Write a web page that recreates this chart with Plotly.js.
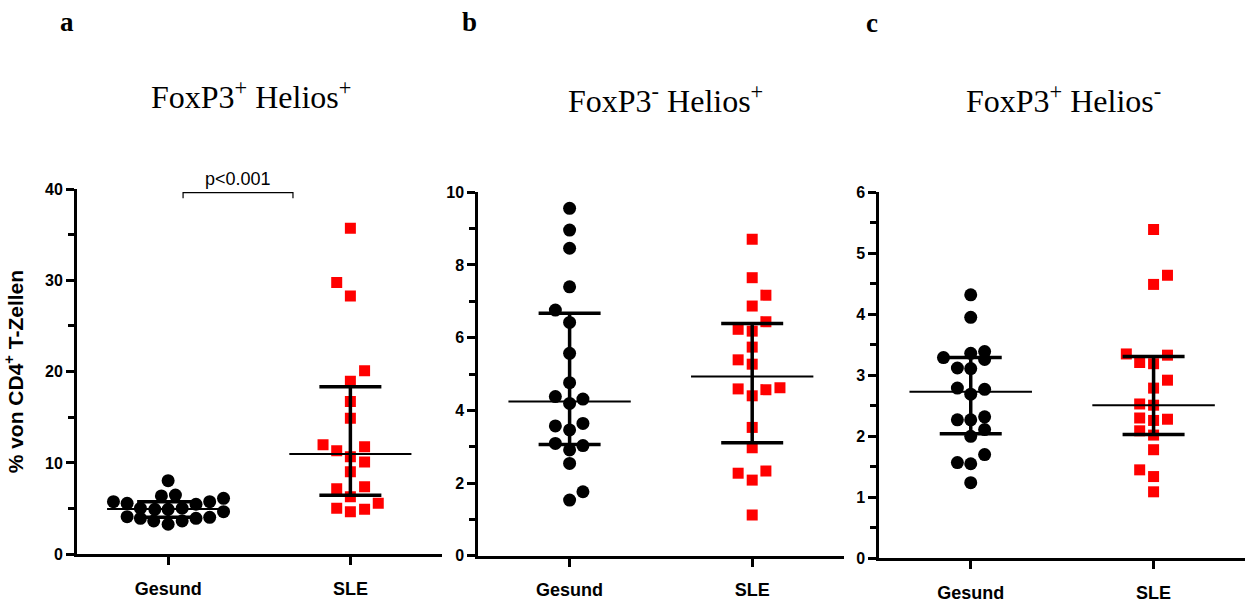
<!DOCTYPE html>
<html>
<head>
<meta charset="utf-8">
<script src="https://cdn.plot.ly/plotly-3.0.1.min.js"></script>
<style>html,body{margin:0;padding:0;background:#fff;}#chart{width:1245px;height:603px;}</style>
</head>
<body>
<div id="chart"></div>
<script>
// ---------- data ----------
const groups = ['Gesund', 'SLE'];
const groupIndex = [1, 2];

// Panel a: FoxP3+ Helios+
const aGesund   = [8.06,5.76,5.58,6.39,6.49,5.48,5.76,6.13,5.04,4.93,4.93,5.04,4.67,4.12,3.94,3.65,3.29,3.65,3.94,4.05];
const aGesundDx = [0,-0.30,-0.225,-0.037,0.04,0.153,0.228,0.304,-0.152,-0.073,0,0.077,0.304,-0.225,-0.152,-0.079,0,0.077,0.153,0.228];
const aSle      = [35.7,29.75,28.29,20.11,18.95,16.72,14.89,12.0,11.35,11.79,10.69,10.11,9.05,7.19,7.41,6.31,5.04,4.67,4.93,5.58];
const aSleDx    = [0,-0.075,0,0.078,0,0,0,-0.15,-0.075,0.078,0,0.078,0,-0.075,0.078,0,-0.075,0,0.078,0.153];
const aMedian = [4.96, 10.99];
const aQ1     = [4.05, 6.46];
const aQ3     = [5.76, 18.36];

// Panel b: FoxP3- Helios+
const bGesund   = [9.56,8.96,8.46,7.40,6.76,6.42,5.57,4.76,4.38,4.31,4.19,3.57,3.64,3.46,3.09,3.03,2.91,2.54,1.53,1.76];
const bGesundDx = [0,0,0,0,-0.078,0,0,0,-0.078,0.073,0,-0.078,0.073,0,-0.078,0.073,0,0,0,0.073];
const bSle      = [8.71,7.65,7.17,6.87,6.44,6.23,6.18,5.74,5.39,5.27,4.59,4.57,4.62,4.40,3.53,2.97,2.27,2.33,2.08,1.12];
const bSleDx    = [0,0,0.075,0,0.075,-0.077,0,0,-0.077,0,-0.077,0.075,0.152,0,0,0,-0.077,0.075,0,0];
const bMedian = [4.24, 4.93];
const bQ1     = [3.06, 3.11];
const bQ3     = [6.67, 6.39];

// Panel c: FoxP3+ Helios-
const cGesund   = [4.32,3.95,3.29,3.36,3.39,3.26,3.12,3.11,2.79,2.77,2.69,2.27,2.27,2.32,2.11,2.00,1.57,1.55,1.70,1.24];
const cGesundDx = [0,0,-0.149,0,0.076,0.076,-0.073,0,-0.073,0.076,0,-0.073,0,0.076,0.076,0,-0.073,0,0.076,0];
const cSle      = [5.39,4.64,4.49,3.35,3.33,3.21,3.19,2.92,2.79,2.53,2.51,2.30,2.26,2.28,2.09,2.02,1.78,1.45,1.34,1.09];
const cSleDx    = [0,0.076,0,-0.149,0.076,-0.076,0,0.076,0,-0.076,0,-0.076,0,0.076,-0.076,0,0,-0.076,0,0];
const cMedian = [2.73, 2.51];
const cQ1     = [2.04, 2.03];
const cQ3     = [3.29, 3.31];

const panelTitles = ['FoxP3<sup>+</sup> Helios<sup>+</sup>', 'FoxP3<sup>-</sup> Helios<sup>+</sup>', 'FoxP3<sup>+</sup> Helios<sup>-</sup>'];
const panelLetters = ['a', 'b', 'c'];
const yTitle = '% von CD4<sup>+</sup> T-Zellen';
const pText = 'p<0.001';

// ---------- build ----------
const ARIAL = 'Arial, "Liberation Sans", sans-serif';
const TIMES = '"Times New Roman", "Liberation Serif", serif';
const medianHalf = 0.335;

function panelTraces(g, gdx, s, sdx, med, q1, q3, xa, ya) {
  const tr = [];
  tr.push({x: gdx.map(d => groupIndex[0] + d), y: g, xaxis: xa, yaxis: ya, type: 'scatter', mode: 'markers',
           marker: {symbol: 'circle', size: 13, color: '#000'}, hoverinfo: 'y', showlegend: false});
  tr.push({x: sdx.map(d => groupIndex[1] + d), y: s, xaxis: xa, yaxis: ya, type: 'scatter', mode: 'markers',
           marker: {symbol: 'square', size: 11, color: '#ff0000'}, hoverinfo: 'y', showlegend: false});
  for (let i = 0; i < 2; i++) {
    tr.push({x: [groupIndex[i] - medianHalf, groupIndex[i] + medianHalf], y: [med[i], med[i]], xaxis: xa, yaxis: ya,
             type: 'scatter', mode: 'lines', line: {color: '#000', width: 2}, hoverinfo: 'skip', showlegend: false});
    tr.push({x: [groupIndex[i]], y: [med[i]], xaxis: xa, yaxis: ya, type: 'scatter', mode: 'markers',
             marker: {opacity: 0, size: 1}, hoverinfo: 'skip', showlegend: false,
             error_y: {type: 'data', symmetric: false, array: [q3[i] - med[i]], arrayminus: [med[i] - q1[i]],
                       width: 31, thickness: 3.5, color: '#000'}});
  }
  return tr;
}

const data = [].concat(
  panelTraces(aGesund, aGesundDx, aSle, aSleDx, aMedian, aQ1, aQ3, 'x', 'y'),
  panelTraces(bGesund, bGesundDx, bSle, bSleDx, bMedian, bQ1, bQ3, 'x2', 'y2'),
  panelTraces(cGesund, cGesundDx, cSle, cSleDx, cMedian, cQ1, cQ3, 'x3', 'y3')
);

function xAxis(domain, anchor) {
  return {domain: domain, anchor: anchor, range: [0.5, 2.5], showgrid: false, zeroline: false,
          showline: true, linecolor: '#000', linewidth: 3, ticks: 'outside', ticklen: 8, tickwidth: 3, tickcolor: '#000',
          tickvals: groupIndex, ticktext: groups, ticklabelstandoff: 8,
          tickfont: {family: ARIAL, size: 18, color: '#000', weight: 'bold'}, fixedrange: true};
}
function yAxis(domain, anchor, range, dtick, minor) {
  return {domain: domain, anchor: anchor, range: range, dtick: dtick, tick0: 0, showgrid: false, zeroline: false,
          showline: true, linecolor: '#000', linewidth: 3, ticks: 'outside', ticklen: 8, tickwidth: 3, tickcolor: '#000',
          minor: {dtick: minor, ticks: 'outside', ticklen: 6, tickwidth: 3, tickcolor: '#000', showgrid: false},
          tickfont: {family: ARIAL, size: 16, color: '#000', weight: 'bold'}, fixedrange: true};
}

const W = 1245, H = 603;
const px = v => v / W;
const py = v => (H - v) / H;

function note(text, x, y, font, xref) {
  return {text: text, xref: xref || 'paper', yref: 'paper', x: x, y: y, showarrow: false,
          xanchor: 'center', yanchor: 'middle', font: font};
}

const layout = {
  width: W, height: H,
  margin: {l: 0, r: 0, t: 0, b: 0},
  paper_bgcolor: '#fff', plot_bgcolor: '#fff',
  showlegend: false,
  xaxis:  xAxis([px(77), px(441.5)], 'y'),
  xaxis2: xAxis([px(478.3), px(843.5)], 'y2'),
  xaxis3: xAxis([px(879.3), 1.0], 'y3'),
  yaxis:  Object.assign(yAxis([py(554.3), py(189)], 'x', [0, 40], 10, 5),
           {title: {text: yTitle, standoff: 16, font: {family: ARIAL, size: 21, color: '#000', weight: 'bold'}}}),
  yaxis2: yAxis([py(555.7), py(192.3)], 'x2', [0, 10], 2, 1),
  yaxis3: yAxis([py(558.3), py(192.3)], 'x3', [0, 6], 1, 0.5),
  shapes: [
    {type: 'path', xref: 'x', yref: 'y', path: 'M 1.082,39.0 L 1.082,39.6 L 1.685,39.6 L 1.685,39.0',
     line: {color: '#000', width: 1.2}}
  ],
  annotations: [
    note(pText, 1.385, py(179), {family: ARIAL, size: 18, color: '#000'}, 'x'),
    note(panelLetters[0], px(67), py(22), {family: TIMES, size: 27, color: '#000', weight: 'bold'}),
    note(panelLetters[1], px(470), py(22), {family: TIMES, size: 27, color: '#000', weight: 'bold'}),
    note(panelLetters[2], px(872), py(23), {family: TIMES, size: 27, color: '#000', weight: 'bold'}),
    note(panelTitles[0], px(250.5), py(95), {family: TIMES, size: 32, color: '#000'}),
    note(panelTitles[1], px(665), py(99), {family: TIMES, size: 32, color: '#000'}),
    note(panelTitles[2], px(1063), py(99), {family: TIMES, size: 32, color: '#000'})
  ]
};

Plotly.newPlot('chart', data, layout, {displayModeBar: false, staticPlot: true});
</script>
</body>
</html>
